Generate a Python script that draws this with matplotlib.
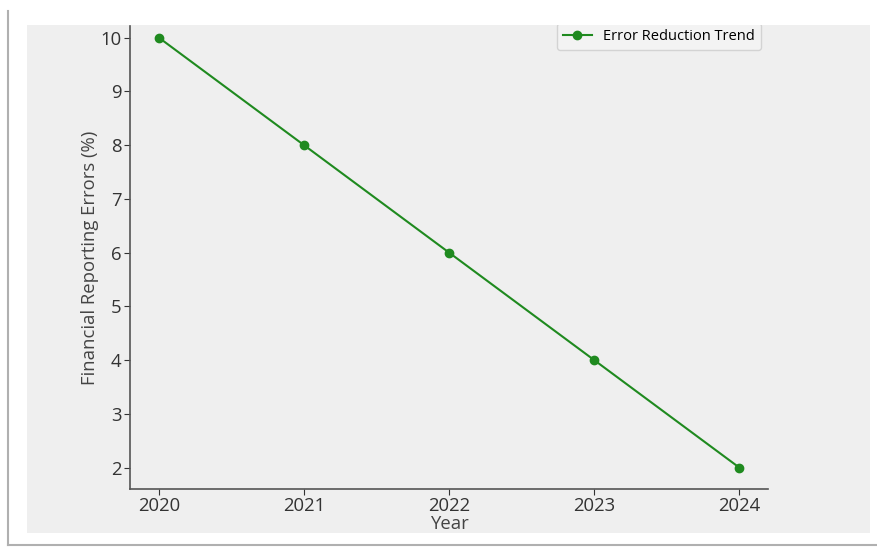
import matplotlib.pyplot as plt
from matplotlib.patches import Rectangle
from matplotlib.lines import Line2D

years = [2020, 2021, 2022, 2023, 2024]
errors = [10, 8, 6, 4, 2]

plt.rcParams['font.family'] = ['Open Sans', 'DejaVu Sans']

fig = plt.figure(figsize=(8.78, 5.51), dpi=100)
fig.patch.set_facecolor('white')

# light grey card behind the plot
fig.add_artist(Rectangle((0.031, 0.033), 0.960, 0.922, transform=fig.transFigure,
                         facecolor='#efefef', edgecolor='none', zorder=-10))
# white strip on top, trims whatever pokes above the card
fig.add_artist(Rectangle((0.0, 0.955), 1.0, 0.045, transform=fig.transFigure,
                         facecolor='white', edgecolor='none', zorder=5))
# frame edges on the left and bottom
fig.add_artist(Line2D([0.009, 0.009], [0.01, 0.98], transform=fig.transFigure,
                      color='#b0b0b0', lw=1.5, zorder=6))
fig.add_artist(Line2D([0.009, 1.0], [0.011, 0.011], transform=fig.transFigure,
                      color='#b0b0b0', lw=1.5, zorder=6))

ax = fig.add_axes([0.148, 0.1125, 0.727, 0.8405])
ax.set_facecolor('none')
ax.plot(years, errors, color='#1f8a1f', marker='o', markersize=6, lw=1.5,
        label='Error Reduction Trend')

ax.set_xlim(2019.8, 2024.2)
ax.set_ylim(1.6, 10.22)
ax.set_xticks(years)
ax.set_yticks(range(2, 11))
ax.tick_params(labelsize=13.3, colors='#333333', length=4, pad=2)
for s in ['top', 'right']:
    ax.spines[s].set_visible(False)
for s in ['left', 'bottom']:
    ax.spines[s].set_color('#555555')
    ax.spines[s].set_linewidth(1.2)

ax.set_xlabel('Year', fontsize=13.3, color='#444444', labelpad=0)
ax.set_ylabel('Financial Reporting Errors (%)', fontsize=13.3, color='#444444', labelpad=1)

ax.legend(loc='upper right', bbox_to_anchor=(1.0, 1.022), fontsize=10.5,
          frameon=True, edgecolor='#cccccc', facecolor='#f5f5f5')

fig.savefig('out.png', dpi=100)
